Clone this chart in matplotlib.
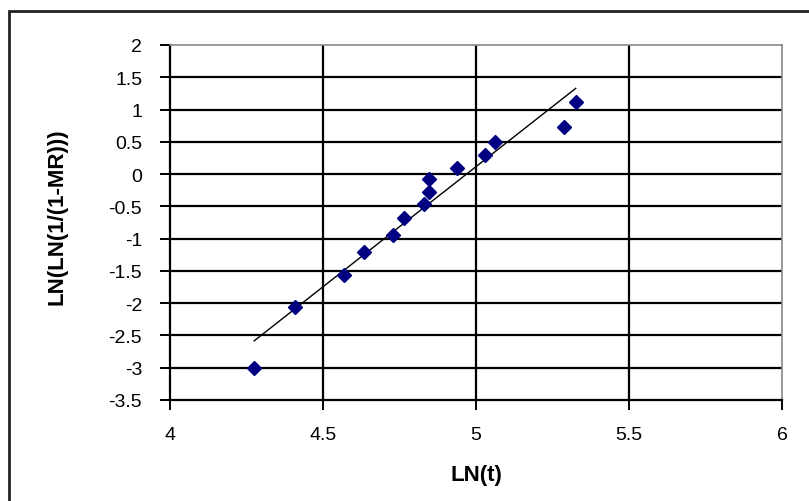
import matplotlib.pyplot as plt
from matplotlib.patches import Rectangle
import numpy as np

# LN(t) and LN(LN(1/(1-MR)))
ln_t = [4.275, 4.408, 4.567, 4.635, 4.728, 4.766, 4.831, 4.845, 4.845,
        4.937, 5.030, 5.062, 5.286, 5.326]
ln_ln = [-3.00, -2.06, -1.56, -1.21, -0.95, -0.68, -0.47, -0.27, -0.07,
         0.09, 0.30, 0.49, 0.73, 1.12]

x_ticks = [4, 4.5, 5, 5.5, 6]
x_labels = ['4', '4.5', '5', '5.5', '6']
y_ticks = [-3.5, -3, -2.5, -2, -1.5, -1, -0.5, 0, 0.5, 1, 1.5, 2]
y_labels = ['-3.5', '-3', '-2.5', '-2', '-1.5', '-1', '-0.5', '0', '0.5', '1', '1.5', '2']

plt.rcParams['font.family'] = ['Liberation Sans', 'DejaVu Sans']

fig = plt.figure(figsize=(8.09, 5.02), dpi=100)
fig.patches.append(Rectangle((9/809, -0.1), 1.2, 0.1 + 1 - 12/502,
                             transform=fig.transFigure, fill=False,
                             edgecolor='#222222', lw=2.0))

ax = fig.add_axes([170/809, 1 - 401/502, 612/809, 355/502])

# linear trendline (least squares), drawn across the data range
b1, b0 = np.polyfit(ln_t, ln_ln, 1)
xx = np.array([min(ln_t), max(ln_t)])
ax.plot(xx, b1 * xx + b0, color='black', lw=1.0, zorder=3)

ax.plot(ln_t, ln_ln, linestyle='none', marker='D', ms=7,
        color='#000080', mec='#000080', zorder=4)

ax.set_xlim(4, 6)
ax.set_ylim(-3.5, 2)
ax.set_xticks(x_ticks)
ax.set_xticklabels(x_labels)
ax.set_yticks(y_ticks)
ax.set_yticklabels(y_labels)

for v in x_ticks[1:-1]:
    ax.axvline(v, color='black', lw=1.6, zorder=1)
for v in y_ticks[1:-1]:
    ax.axhline(v, color='black', lw=1.6, zorder=1)

for s in ['left', 'bottom']:
    ax.spines[s].set_linewidth(1.6)
    ax.spines[s].set_color('black')
for s in ['top', 'right']:
    ax.spines[s].set_linewidth(1.2)
    ax.spines[s].set_color('#888888')

ax.tick_params(axis='both', direction='out', length=7, width=1.4,
               labelsize=14, colors='black')
ax.tick_params(axis='y', pad=13)
ax.tick_params(axis='x', pad=12)

ax.set_xlabel('LN(t)', fontsize=16, fontweight='bold')
ax.set_ylabel('LN(LN(1/(1-MR)))', fontsize=16, fontweight='bold')
ax.xaxis.set_label_coords(0.5, -0.18)
ax.yaxis.set_label_coords(-0.168, 0.52)

fig.savefig('out.png', dpi=100)
